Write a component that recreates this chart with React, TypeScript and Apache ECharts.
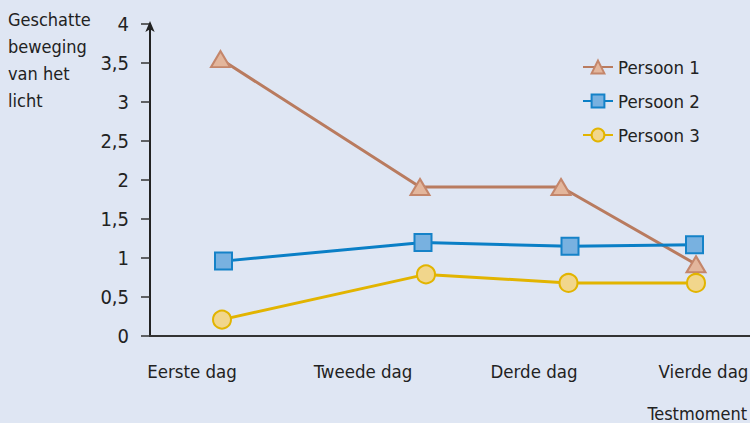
import React, { useEffect, useRef } from "react";
import * as echarts from "echarts";

const categories = ["Eerste dag", "Tweede dag", "Derde dag", "Vierde dag"];
const categoryPositions = [0.28, 1.42, 2.56, 3.69];

const persoon1X = [0.47, 1.8, 2.74, 3.64];
const persoon1Y = [3.55, 1.91, 1.91, 0.92];
const persoon2X = [0.49, 1.82, 2.8, 3.63];
const persoon2Y = [0.96, 1.2, 1.15, 1.17];
const persoon3X = [0.48, 1.84, 2.79, 3.64];
const persoon3Y = [0.21, 0.79, 0.68, 0.68];

const seriesNames = ["Persoon 1", "Persoon 2", "Persoon 3"];
const yLabelLines = ["Geschatte", "beweging", "van het", "licht"];
const xAxisTitle = "Testmoment";

const FONT = "'DejaVu Sans Condensed', 'Liberation Sans', sans-serif";
const FS = 18.5;

const zip = (xs: number[], ys: number[]) => xs.map((x, i) => [x, ys[i]]);

export default function App() {
  const ref = useRef<HTMLDivElement>(null);
  useEffect(() => {
    if (!ref.current) return;
    const chart = echarts.init(ref.current, null, { renderer: "svg" });
    const mk = (
      name: string,
      data: number[][],
      symbol: string,
      size: number | number[],
      line: string,
      fill: string,
      border: string
    ) => ({
      name,
      type: "line",
      data,
      symbol,
      symbolSize: size,
      lineStyle: { color: line, width: 3 },
      itemStyle: { color: fill, borderColor: border, borderWidth: 2 },
      z: 3,
    });
    chart.setOption({
      animation: false,
      backgroundColor: "#dfe6f3",
      textStyle: { fontFamily: FONT },
      grid: {
        left: 150,
        right: 0,
        top: 24,
        bottom: 87,
        containLabel: false,
        outerBoundsMode: "none",
      },
      legend: {
        orient: "vertical",
        left: 577,
        top: 52,
        itemWidth: 30,
        itemHeight: 16,
        itemGap: 14,
        textStyle: { fontSize: FS, color: "#222", fontFamily: FONT, lineHeight: 20 },
        data: seriesNames,
      },
      xAxis: {
        type: "value",
        min: 0,
        max: 4,
        axisLine: { show: true, onZero: false, lineStyle: { color: "#333", width: 2 } },
        axisTick: { show: false },
        splitLine: { show: false },
        axisLabel: {
          customValues: categoryPositions,
          margin: 26,
          fontSize: FS,
          color: "#222",
          fontFamily: FONT,
          formatter: (v: number) => {
            let best = 0;
            categoryPositions.forEach((p, i) => {
              if (Math.abs(p - v) < Math.abs(categoryPositions[best] - v)) best = i;
            });
            return categories[best];
          },
        },
      },
      yAxis: {
        type: "value",
        min: 0,
        max: 4,
        interval: 0.5,
        axisLine: {
          show: true,
          onZero: false,
          symbol: ["none", "arrow"],
          symbolSize: [7, 11],
          symbolOffset: [0, 3],
          lineStyle: { color: "#222", width: 2 },
        },
        axisTick: { show: true, inside: false, length: 9, lineStyle: { color: "#333", width: 1.5 } },
        splitLine: { show: false },
        axisLabel: {
          margin: 21,
          fontSize: 20,
          color: "#222",
          fontFamily: FONT,
          formatter: (v: number) => String(v).replace(".", ","),
        },
      },
      graphic: [
        {
          type: "text",
          left: 8,
          top: 6,
          style: {
            text: yLabelLines.join("\n"),
            fontSize: 18,
            lineHeight: 27,
            fill: "#222",
            fontFamily: FONT,
          },
        },
        {
          type: "text",
          right: 3,
          top: 404,
          style: { text: xAxisTitle, fontSize: 18, fill: "#222", fontFamily: FONT },
        },
      ],
      series: [
        mk(seriesNames[0], zip(persoon1X, persoon1Y), "triangle", [19, 16], "#b97b5f", "#e3b69c", "#c4866b"),
        mk(seriesNames[1], zip(persoon2X, persoon2Y), "rect", 17, "#0a7fc6", "#78b1e0", "#1582c8"),
        mk(seriesNames[2], zip(persoon3X, persoon3Y), "circle", 18, "#e2b400", "#f1d68c", "#e2b400"),
      ],
    });
    return () => chart.dispose();
  }, []);
  return (
    <div
      ref={ref}
      style={{ position: "fixed", left: 0, top: 0, width: 750, height: 423 }}
    />
  );
}
